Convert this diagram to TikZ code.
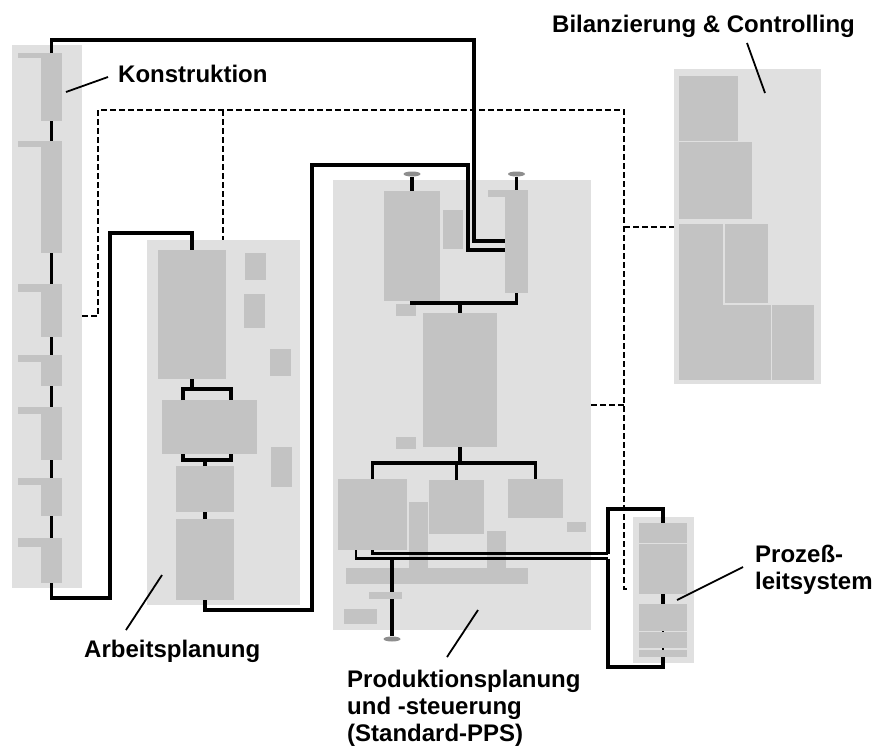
\documentclass[tikz,border=0pt]{standalone}
\usepackage{fontspec}
\setmainfont{Liberation Sans}
\usetikzlibrary{calc,shapes.geometric}
\definecolor{panelgray}{HTML}{E0E0E0}
\definecolor{blockgray}{HTML}{C3C3C3}
\definecolor{knobgray}{HTML}{8E8E8E}
% \blk[colour]{name}{x1}{y1}{x2}{y2}: a filled box given by two corners
\newcommand\blk[6][blockgray]{%
  \node[rectangle, fill=#1, inner sep=0pt, outer sep=0pt,
        minimum width={(#5)-(#3)}, minimum height={(#6)-(#4)}]
        (#2) at ({((#3)+(#5))/2},{((#4)+(#6))/2}) {};}
\tikzset{
  conn/.style={line width=3.5pt, black},
  thinconn/.style={line width=2.7pt, black},
  dashconn/.style={line width=1.9pt, black, dash pattern=on 6pt off 3pt},
  ptr/.style={line width=1.8pt, black},
  knob/.style={ellipse, fill=knobgray, inner sep=0pt, minimum width=17pt, minimum height=5pt},
  lbl/.style={font=\bfseries\fontsize{24}{27}\selectfont, inner sep=0pt, align=left},
}
\begin{document}
\begin{tikzpicture}[x=1pt, y=-1pt]
\useasboundingbox (0,0) rectangle (874,747);

% ---- panels ----
\blk[panelgray]{pK}{12}{45}{82}{588}
\blk[panelgray]{pA}{147}{240}{300}{605}
\blk[panelgray]{pP}{333}{180}{591}{630}
\blk[panelgray]{pB}{674}{69}{821}{384}
\blk[panelgray]{pL}{633}{517}{694}{663}

% ---- Konstruktion ----
\blk{k1}{41}{53}{62}{121}
\blk{k2}{41}{141}{62}{253}
\blk{k3}{41}{284}{62}{337}
\blk{k4}{41}{355}{62}{386}
\blk{k5}{41}{407}{62}{460}
\blk{k6}{41}{478}{62}{516}
\blk{k7}{41}{538}{62}{583}
\fill[blockgray] (18,53) rectangle (41,58);
\fill[blockgray] (18,141) rectangle (41,147);
\fill[blockgray] (18,284) rectangle (41,292);
\fill[blockgray] (18,355) rectangle (41,362);
\fill[blockgray] (18,407) rectangle (41,414);
\fill[blockgray] (18,478) rectangle (41,485);
\fill[blockgray] (18,538) rectangle (41,547);

% ---- Arbeitsplanung ----
\blk{a1}{158}{250}{226}{379}
\blk{a2}{245}{253}{266}{280}
\blk{a3}{244}{294}{265}{328}
\blk{a4}{270}{349}{291}{376}
\blk{a5}{162}{400}{257}{454}
\blk{a6}{271}{447}{292}{487}
\blk{a7}{176}{466}{234}{512}
\blk{a8}{176}{519}{234}{600}

% ---- Produktionsplanung und -steuerung ----
\blk{p1}{384}{191}{440}{301}
\blk{p2}{443}{210}{463}{249}
\blk{p3}{505}{190}{528}{293}
\fill[blockgray] (488,190) rectangle (505,197);
\blk{p4}{396}{304}{416}{316}
\blk{p5}{423}{313}{497}{447}
\blk{p6}{396}{437}{416}{449}
\blk{q1}{338}{479}{407}{550}
\blk{q2}{429}{480}{484}{534}
\blk{q3}{508}{479}{563}{518}
\blk{q4}{567}{522}{586}{532}
\blk{q5}{409}{502}{428}{568}
\blk{q6}{487}{531}{506}{568}
\blk{q7}{346}{568}{528}{584}
\blk{q9}{344}{609}{377}{624}
\node[knob] (o1) at (412,174) {};
\node[knob] (o2) at (516.5,174) {};
\node[knob] (o3) at (392,639) {};

% ---- Bilanzierung & Controlling ----
\blk{b1}{679}{76}{738}{141}
\blk{b2}{679}{142}{752}{219}
\blk{b3}{679}{224}{723}{380}
\blk{b4}{725}{224}{768}{303}
\blk{b5}{723}{305}{771}{380}
\blk{b6}{772}{305}{814}{380}

% ---- Prozessleitsystem ----
\blk{l1}{639}{523}{687}{543}
\blk{l2}{639}{544}{687}{594}
\blk{l3}{639}{604}{687}{631}
\blk{l4}{639}{632}{687}{648}
\blk{l5}{639}{650}{687}{657}

% ---- dashed links ----
\draw[dashconn] (pK.east |- 0,316) -- (98,316) -- (98,110) -- (624,110) -- (624,589) -- (628,589);
\draw[dashconn] (223,110) -- (223,0 |- pA.north);
\draw[dashconn] (624,227) -- (pB.west |- 0,227);
\draw[dashconn] (pP.east |- 0,405) -- (624,405);

% ---- solid links: Konstruktion chain ----
\draw[conn] (k1.south) -- (k2.north);
\draw[conn] (k2.south) -- (k3.north);
\draw[conn] (k3.south) -- (k4.north);
\draw[conn] (k4.south) -- (k5.north);
\draw[conn] (k5.south) -- (k6.north);
\draw[conn] (k6.south) -- (k7.north);

% ---- solid links: Arbeitsplanung chain ----
\draw[conn] (a1.south) -- (a1.south |- 0,389);
\draw[conn] (183,0 |- a5.north) -- (183,389) -- (231,389) -- (231,0 |- a5.north);
\draw[conn] (183,0 |- a5.south) -- (183,460) -- (231,460) -- (231,0 |- a5.south);
\draw[conn] (a7.north) -- (a7.north |- 0,460);
\draw[conn] (a7.south) -- (a8.north);

% ---- solid links between areas ----
\draw[conn] (k1.north) |- (474,40) |- (p3.west |- 0,241);
\draw[conn] (a8.south) |- (312,610) |- (468,165) |- (p3.west |- 0,250);
\draw[conn] (k7.south) |- (110,598) |- (a1.north |- 0,233) -- (a1.north);

% ---- solid links: PPS ----
\draw[conn] (o1) -- (p1.north);
\draw[conn] (o2) -- (p3.north);
\draw[conn] (p1.south) |- (p3.south |- 0,303) -- (p3.south);
\draw[conn] (p5.north) -- (p5.north |- 0,303);
\draw[conn] (p5.south) -- (p5.south |- 0,463);
\draw[conn] (q1.north) |- (q3.north |- 0,463) -- (q3.north);
\draw[conn] (q2.north) -- (q2.north |- 0,463);
% two parallel links from PPS to the Prozessleitsystem
\coordinate (jU) at (608,553.5);
\coordinate (jD) at (608,558.7);
\draw[thinconn] (q1.south) |- (jU);
\draw[thinconn] (356,0 |- q1.south) |- (jD);
\draw[conn] (jU) -- (608,509) -| (l1.north);
\draw[conn] (jD) |- (l5.south |- 0,667) -- (l5.south);
\draw[conn] (392,558.7) -- (o3.north);
\blk{q8}{369}{592}{402}{599}

% ---- solid links: Prozessleitsystem ----
\draw[conn] (l2.south) -- (l3.north);
\draw[line width=2.5pt] (l3.south) -- (l4.north);
\draw[line width=2.5pt] (l4.south) -- (l5.north);

% ---- labels ----
\node[lbl, anchor=base west] (tK) at (118,82) {Konstruktion};
\node[lbl, anchor=base west] (tB) at (552,32) {Bilanzierung \& Controlling};
\node[lbl, anchor=base west] (tA) at (84,657) {Arbeitsplanung};
\node[lbl, anchor=north west] (tP) at (347,669.5) {Produktionsplanung\\und -steuerung\\(Standard-PPS)};
\node[lbl, anchor=north west] (tL) at (755,544.5) {Proze\ss-\\leitsystem};

\draw[ptr] (66,92) -- (108,77);
\draw[ptr] (747,43) -- (765,93);
\draw[ptr] (126,630) -- (162,575);
\draw[ptr] (447,657) -- (478,610);
\draw[ptr] (677,600) -- (743,567);
\end{tikzpicture}
\end{document}
